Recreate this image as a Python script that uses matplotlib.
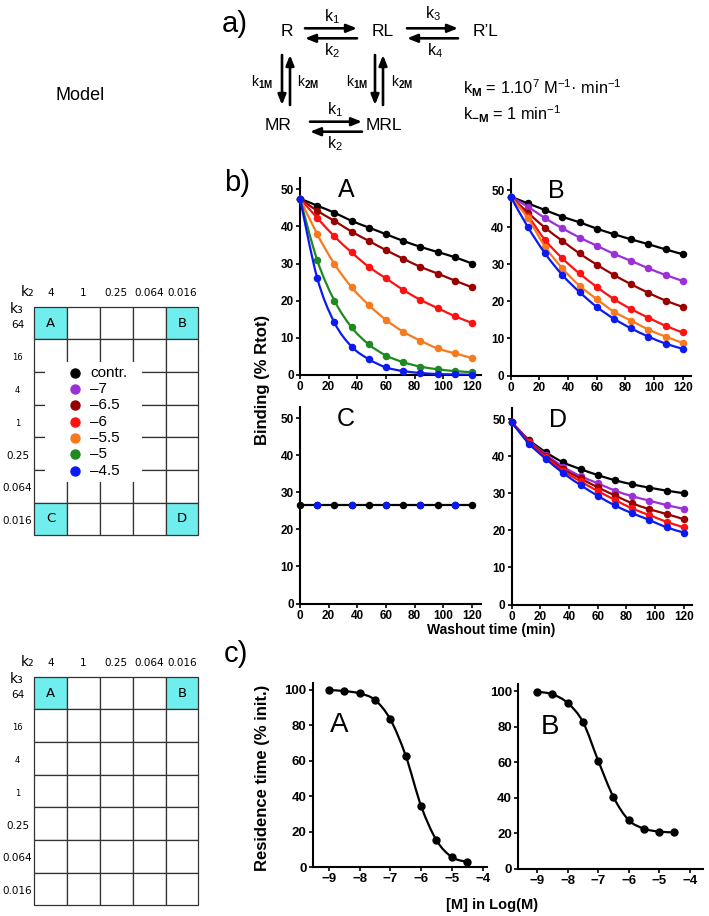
"""
Washout / residence-time figure: reaction model, k2-k3 grid, binding curves (b)
and residence time vs. modulator concentration (c).
"""
import matplotlib
matplotlib.use("Agg")
import matplotlib.pyplot as plt
from matplotlib.path import Path
from matplotlib.patches import PathPatch, Rectangle

plt.rcParams["font.family"] = ["Liberation Sans", "DejaVu Sans"]
plt.rcParams["mathtext.fontset"] = "custom"
plt.rcParams["mathtext.rm"] = "Liberation Sans"
plt.rcParams["mathtext.bf"] = "Liberation Sans:bold"
plt.rcParams["mathtext.it"] = "Liberation Sans:italic"

W, H = 709, 916

# ---- data -------------------------------------------------------------
K2_LABELS = ["4", "1", "0.25", "0.064", "0.016"]
K3_LABELS = ["64", "16", "4", "1", "0.25", "0.064", "0.016"]
TOP_CELLS = {(0, 0): "A", (0, 4): "B", (6, 0): "C", (6, 4): "D"}
BOTTOM_CELLS = {(0, 0): "A", (0, 4): "B"}

CONC_LABELS = ["contr.", "–7", "–6.5", "–6", "–5.5", "–5", "–4.5"]
CONC_COLORS = ["#000000", "#9b30d9", "#990000", "#ff1111", "#f77a1f", "#1f8a1f", "#0a1af0"]

TIME = [0, 12, 24, 36, 48, 60, 72, 84, 96, 108, 120]

A_CONTR = [47.5, 45.6, 43.7, 41.5, 39.7, 37.9, 36.1, 34.5, 33.1, 31.7, 30.0]
A_6_5 = [47.5, 44.2, 41.5, 38.6, 36.1, 33.6, 31.3, 29.1, 27.3, 25.4, 23.6]
A_6 = [47.5, 42.3, 37.3, 33.0, 29.1, 26.0, 22.9, 20.2, 18.0, 15.8, 14.0]
A_5_5 = [47.5, 37.9, 29.9, 23.6, 18.8, 14.8, 11.6, 9.2, 7.1, 5.8, 4.5]
A_5 = [47.5, 30.9, 20.0, 12.8, 8.2, 5.2, 3.4, 2.2, 1.5, 1.0, 0.7]
A_4_5 = [47.5, 26.1, 14.1, 7.6, 4.2, 2.0, 1.0, 0.5, 0.2, 0.1, 0.0]

B_CONTR = [48.2, 46.4, 44.6, 42.8, 41.3, 39.6, 38.1, 36.7, 35.4, 34.0, 32.7]
B_7 = [48.2, 45.5, 42.4, 39.7, 37.2, 35.0, 32.8, 30.9, 28.9, 27.1, 25.5]
B_6_5 = [48.2, 43.9, 39.8, 36.3, 32.9, 29.9, 27.1, 24.6, 22.3, 20.2, 18.5]
B_6 = [48.2, 43.0, 36.5, 31.6, 27.5, 23.9, 20.6, 17.9, 15.6, 13.4, 11.6]
B_5_5 = [48.2, 42.4, 34.7, 28.9, 24.2, 20.6, 17.2, 14.8, 12.4, 10.5, 8.8]
B_4_5 = [48.2, 40.0, 32.9, 27.1, 22.5, 18.5, 15.3, 12.7, 10.5, 8.6, 7.2]

C_ALL = [26.5, 26.5, 26.5, 26.5, 26.5, 26.5, 26.5, 26.5, 26.5, 26.5, 26.5]

D_CONTR = [49.1, 44.4, 41.0, 38.3, 36.5, 34.9, 33.5, 32.4, 31.5, 30.7, 30.0]
D_7 = [49.1, 44.2, 40.4, 37.1, 34.6, 32.7, 30.7, 29.2, 28.0, 26.8, 25.8]
D_6_5 = [49.1, 44.0, 40.0, 36.5, 34.0, 31.6, 29.4, 27.3, 25.7, 24.4, 23.0]
D_6 = [49.1, 43.8, 39.7, 36.0, 33.2, 30.6, 28.2, 25.9, 24.1, 22.3, 20.8]
D_4_5 = [49.1, 43.4, 39.2, 35.4, 32.2, 29.3, 26.7, 24.6, 22.8, 20.8, 19.4]

LOG_M = [-9, -8.5, -8, -7.5, -7, -6.5, -6, -5.5, -5, -4.5]
RES_A = [100, 99.4, 98.1, 94.4, 83.4, 62.9, 34.5, 15.1, 5.6, 2.8]
RES_B = [99.8, 98.3, 93.4, 82.7, 60.9, 40.4, 27.4, 22.6, 20.9, 20.5]

# (series, index into CONC_COLORS) per panel, drawn in this order
PANEL_A = [(A_CONTR, 0), (A_6_5, 2), (A_6, 3), (A_5_5, 4), (A_5, 5), (A_4_5, 6)]
PANEL_B = [(B_CONTR, 0), (B_7, 1), (B_6_5, 2), (B_6, 3), (B_5_5, 4), (B_4_5, 6)]
PANEL_D = [(D_CONTR, 0), (D_7, 1), (D_6_5, 2), (D_6, 3), (D_4_5, 6)]

CYAN = "#70eeee"
GRID = "#333333"


def px_axes(fig, left, top, right, bottom):
    return fig.add_axes([left / W, 1 - bottom / H, (right - left) / W, (bottom - top) / H])


def smooth_line(ax, xs, ys, color, lw, zorder):
    # Catmull-Rom through the data points, drawn as a cubic Bezier path
    pts = list(zip(xs, ys))
    n = len(pts)
    verts = [pts[0]]
    codes = [Path.MOVETO]
    for i in range(n - 1):
        p0 = pts[max(i - 1, 0)]
        p1 = pts[i]
        p2 = pts[i + 1]
        p3 = pts[min(i + 2, n - 1)]
        c1 = (p1[0] + (p2[0] - p0[0]) / 6, p1[1] + (p2[1] - p0[1]) / 6)
        c2 = (p2[0] - (p3[0] - p1[0]) / 6, p2[1] - (p3[1] - p1[1]) / 6)
        verts += [c1, c2, p2]
        codes += [Path.CURVE4] * 3
    ax.add_patch(PathPatch(Path(verts, codes), fill=False, ec=color, lw=lw,
                           zorder=zorder, capstyle="round", joinstyle="round"))


def style_axes(ax, labelsize):
    for s in ("top", "right"):
        ax.spines[s].set_visible(False)
    for s in ("left", "bottom"):
        ax.spines[s].set_linewidth(1.5)
    ax.tick_params(direction="out", length=3, width=1.2, labelsize=labelsize, pad=1.5)
    for lab in ax.get_xticklabels() + ax.get_yticklabels():
        lab.set_fontweight("bold")


fig = plt.figure(figsize=(W / 100, H / 100), dpi=100)

# ---- b) washout panels -------------------------------------------------
axA = px_axes(fig, 300, 178.2, 480.6, 374.8)
axB = px_axes(fig, 510.7, 178.9, 691.3, 375.5)
axC = px_axes(fig, 300, 406.9, 480.6, 603.5)
axD = px_axes(fig, 511.7, 407.9, 692.3, 604.5)

for ax, series in ((axA, PANEL_A), (axB, PANEL_B), (axD, PANEL_D)):
    for k, (vals, ci) in enumerate(series):
        smooth_line(ax, TIME, vals, CONC_COLORS[ci], 1.6, 2 + k)
        ax.plot(TIME, vals, "o", color=CONC_COLORS[ci], ms=4.4, zorder=2.5 + k, clip_on=False)

axC.plot(TIME, C_ALL, "-o", color=CONC_COLORS[0], lw=1.6, ms=4.4, clip_on=False, zorder=3)
axC.plot(TIME, C_ALL, "o", color=CONC_COLORS[6], ms=4.4, markevery=slice(1, None, 2),
         clip_on=False, zorder=4)

for ax, letter in ((axA, "A"), (axB, "B"), (axC, "C"), (axD, "D")):
    ax.set_xlim(0, 126)
    ax.set_ylim(0, 53)
    ax.set_xticks([0, 20, 40, 60, 80, 100, 120])
    ax.set_yticks([0, 10, 20, 30, 40, 50])
    style_axes(ax, 8.5)
    ax.patch.set_alpha(0)
    ax.text(0.255, 0.94, letter, transform=ax.transAxes, fontsize=18, ha="center", va="center")

# ---- c) residence time ---------------------------------------------------
axRA = px_axes(fig, 312.7, 682.9, 487.3, 867)
axRB = px_axes(fig, 518.3, 684.2, 703.4, 868.7)
for ax, vals, xlim, letter in ((axRA, RES_A, (-9.52, -3.85), "A"),
                               (axRB, RES_B, (-9.62, -3.55), "B")):
    smooth_line(ax, LOG_M, vals, "black", 1.6, 2)
    ax.plot(LOG_M, vals, "o", color="black", ms=5, zorder=3, clip_on=False)
    ax.set_xlim(*xlim)
    ax.set_ylim(0, 104)
    ax.set_xticks([-9, -8, -7, -6, -5, -4])
    ax.set_yticks([0, 20, 40, 60, 80, 100])
    style_axes(ax, 9.5)
    ax.patch.set_alpha(0)
    ax.text(0.15 if letter == "A" else 0.17, 0.77, letter, transform=ax.transAxes,
            fontsize=20, ha="center", va="center")

# ---- overlay in pixel coordinates: labels, model, grids --------------------
ov = fig.add_axes([0, 0, 1, 1], zorder=10)
ov.set_xlim(0, W)
ov.set_ylim(H, 0)
ov.axis("off")
ov.patch.set_alpha(0)

ov.text(262, 380, "Binding (% Rtot)", rotation=90, fontsize=12, fontweight="bold",
        ha="center", va="center")
ov.text(491, 630, "Washout time (min)", fontsize=10, fontweight="bold", ha="center", va="center")
ov.text(263, 778, "Residence time (% init.)", rotation=90, fontsize=12, fontweight="bold",
        ha="center", va="center")
ov.text(492, 905, "[M] in Log(M)", fontsize=10.5, fontweight="bold", ha="center", va="center")

for txt, x, y in (("a)", 235, 24), ("b)", 237, 183), ("c)", 236, 654)):
    ov.text(x, y, txt, fontsize=21, ha="center", va="center")

ov.text(80, 95, "Model", fontsize=13, ha="center", va="center")

# reaction scheme
for txt, x, y in (("R", 286.5, 31.5), ("RL", 382.5, 31.5), ("R’L", 486, 31.5),
                  ("MR", 278.5, 125), ("MRL", 384, 125)):
    ov.text(x, y, txt, fontsize=12.5, ha="center", va="center")

arrow = dict(arrowstyle="-|>,head_length=0.6,head_width=0.24", lw=1.9, color="black",
             shrinkA=0, shrinkB=0)
for (x0, y0, x1, y1) in ((305, 28.3, 357, 28.3), (357, 38.3, 305, 38.3),
                         (407, 28.3, 458, 28.3), (458, 38.3, 407, 38.3),
                         (310, 121.7, 362, 121.7), (362, 131.7, 310, 131.7),
                         (282, 55, 282, 105), (290, 105, 290, 55),
                         (375, 55, 375, 105), (383, 105, 383, 55)):
    ov.annotate("", xy=(x1, y1), xytext=(x0, y0), arrowprops=arrow)

for txt, x, y in ((r"k$_1$", 332, 17), (r"k$_2$", 332, 51), (r"k$_3$", 433, 14),
                  (r"k$_4$", 435, 51), (r"k$_1$", 335, 110), (r"k$_2$", 335, 144)):
    ov.text(x, y, txt, fontsize=11.5, ha="center", va="center")
for txt, x, y in ((r"k$_{\mathbf{1M}}$", 262, 82), (r"k$_{\mathbf{2M}}$", 308, 82),
                  (r"k$_{\mathbf{1M}}$", 357, 82), (r"k$_{\mathbf{2M}}$", 402, 82)):
    ov.text(x, y, txt, fontsize=10, ha="center", va="center")

ov.text(463, 88, r"k$_{\mathbf{M}}$ = 1.10$^{7}$ M$^{-1}$· min$^{-1}$", fontsize=11.8,
        ha="left", va="center")
ov.text(463, 114, r"k$_{\mathbf{-M}}$ = 1 min$^{-1}$", fontsize=11.8, ha="left", va="center")


def draw_grid(top, cells):
    x0, cw, ch = 34.3, 32.8, 32.66
    for r in range(len(K3_LABELS)):
        for c in range(len(K2_LABELS)):
            fc = CYAN if (r, c) in cells else "white"
            ov.add_patch(Rectangle((x0 + c * cw, top + r * ch), cw, ch, fc=fc, ec=GRID, lw=0.9))
            if (r, c) in cells:
                ov.text(x0 + (c + 0.5) * cw, top + (r + 0.5) * ch, cells[(r, c)],
                        fontsize=9.5, family="DejaVu Sans", ha="center", va="center")
    for c, lab in enumerate(K2_LABELS):
        ov.text(x0 + (c + 0.5) * cw, top - 14, lab, fontsize=7.5, family="DejaVu Sans",
                ha="center", va="center")
    ov.text(28, top - 15, "k₂", fontsize=10, family="DejaVu Sans", ha="center", va="center")
    ov.text(17, top + 2, "k₃", fontsize=10, family="DejaVu Sans", ha="center", va="center")
    for r, lab in enumerate(K3_LABELS):
        size = 6 if lab in ("16", "4", "1") else 7.5
        ov.text(17.5, top + (r + 0.5) * ch + 2, lab, fontsize=size, family="DejaVu Sans",
                ha="center", va="center")


draw_grid(306.7, TOP_CELLS)
draw_grid(676.7, BOTTOM_CELLS)

# legend over the top grid
ov.add_patch(Rectangle((45, 362), 97, 120, fc="white", ec="none", zorder=3))
for i, (lab, col) in enumerate(zip(CONC_LABELS, CONC_COLORS)):
    y = 372.7 + i * 16.33
    ov.plot(75, y, "o", color=col, ms=6.5, zorder=4)
    ov.text(90, y, lab, fontsize=11, ha="left", va="center", zorder=4)

fig.savefig("out.png", dpi=100)
